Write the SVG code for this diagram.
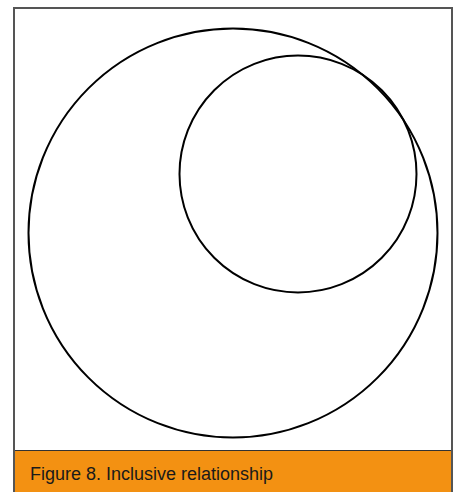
<svg xmlns="http://www.w3.org/2000/svg" width="456" height="492" viewBox="0 0 456 492">
<style>
.c{fill:none;stroke:#000;stroke-width:2}
.lbl{font-family:"Liberation Sans",Arial,sans-serif;font-size:18px;fill:#1a1a1a}
</style>
<rect x="0" y="0" width="456" height="492" fill="#fff"/>
<rect x="14" y="8" width="438" height="484" fill="#fff" stroke="#555" stroke-width="2"/>
<rect x="14" y="450.5" width="438" height="42" fill="#F39112"/>
<line x1="14" y1="450.5" x2="452" y2="450.5" stroke="#333" stroke-width="1"/>
<line x1="14" y1="8" x2="14" y2="492" stroke="#555" stroke-width="2"/>
<line x1="452" y1="8" x2="452" y2="492" stroke="#555" stroke-width="2"/>
<g id="outer"><circle class="c" cx="233" cy="233" r="204.5"/></g>
<g id="inner"><circle class="c" cx="298" cy="174" r="118.5"/></g>
<g id="connectors"/>
<text class="lbl" x="30" y="480" textLength="243" lengthAdjust="spacingAndGlyphs">Figure 8. Inclusive relationship</text>
</svg>
